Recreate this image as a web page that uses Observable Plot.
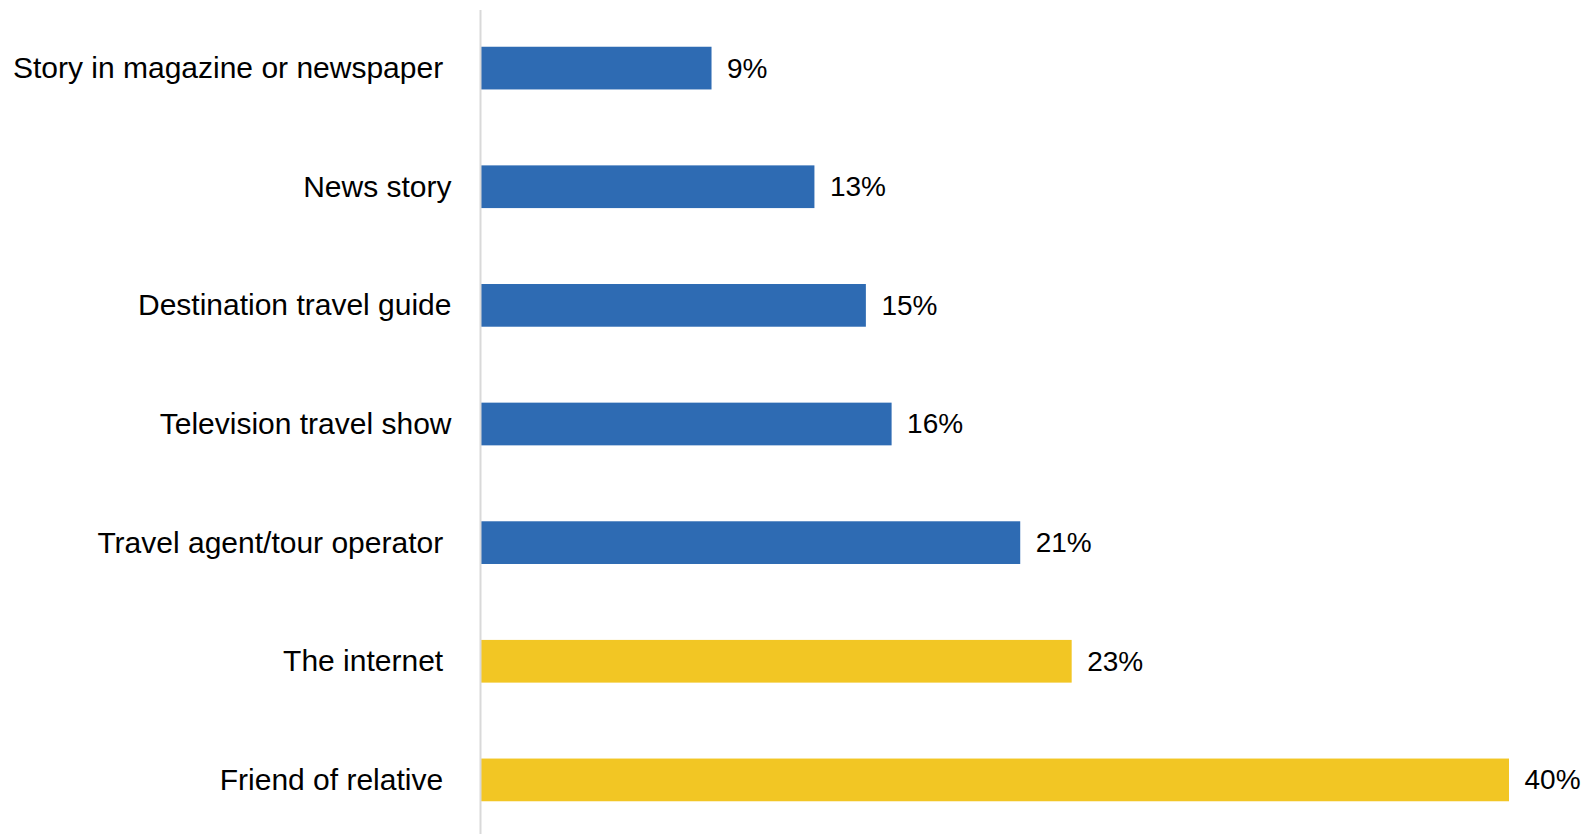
<!DOCTYPE html>
<html>
<head>
<meta charset="utf-8">
<script src="https://cdn.jsdelivr.net/npm/d3@7"></script>
<script src="https://cdn.jsdelivr.net/npm/@observablehq/plot@0.6"></script>
<style>
  html, body { margin: 0; padding: 0; background: #ffffff; }
  svg { display: block; }
</style>
</head>
<body>
<div id="chart"></div>
<script>
const categories = [
  "Story in magazine or newspaper\u00A0",
  "News story",
  "Destination travel guide",
  "Television travel show",
  "Travel agent/tour operator\u00A0",
  "The internet\u00A0",
  "Friend of relative\u00A0"
];
const values = [9, 13, 15, 16, 21, 23, 40];
const groups = ["Other", "Other", "Other", "Other", "Other", "Top", "Top"];
const groupNames = ["Other", "Top"];
const groupColors = ["#2E6BB3", "#F2C624"];

const data = categories.map((c, i) => ({category: c, value: values[i], group: groups[i]}));

const chart = Plot.plot({
  width: 1593,
  height: 834,
  marginTop: 14,
  marginBottom: 0,
  marginLeft: 480,
  marginRight: 84,
  style: {fontFamily: "'Liberation Sans', Arial, sans-serif", fontSize: "30px", color: "#000"},
  x: {domain: [0, 40], axis: null},
  y: {domain: categories, paddingInner: 0.64, paddingOuter: 0.276, round: false, label: null},
  color: {domain: groupNames, range: groupColors},
  marks: [
    Plot.barX(data, {x: "value", y: "category", fill: "group"}),
    Plot.ruleX([0], {stroke: "#d9d9d9", strokeWidth: 2, insetTop: -4}),
    Plot.text(data, {x: "value", y: "category", text: d => d.value + "%", textAnchor: "start", dx: 15, fontSize: 28, fill: "#000"}),
    Plot.axisY({tickSize: 0, tickPadding: 29, fontSize: 30, fill: "#000", label: null})
  ]
});
document.getElementById("chart").appendChild(chart);
</script>
</body>
</html>
